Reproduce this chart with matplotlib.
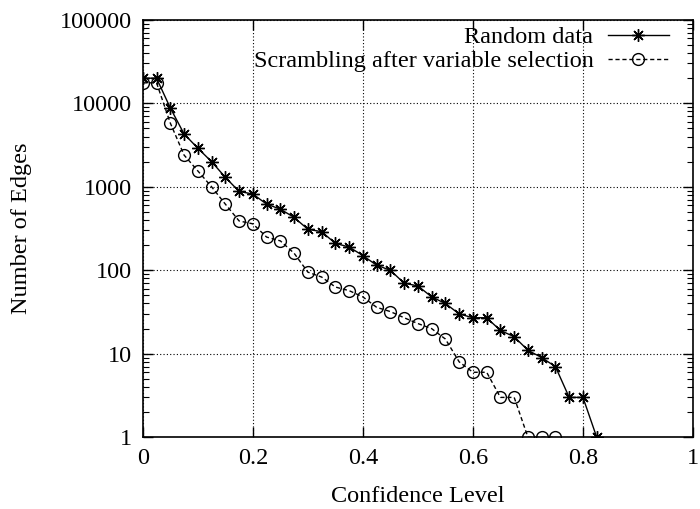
import numpy as np
import matplotlib
matplotlib.use('Agg')
import matplotlib.pyplot as plt
from matplotlib.ticker import LogLocator, NullFormatter, FixedLocator

plt.rcParams['font.family'] = ['Liberation Serif', 'DejaVu Serif']
plt.rcParams['font.size'] = 17.5

# confidence levels (step 0.025)
x_random = [0.0, 0.025, 0.05, 0.075, 0.1, 0.125, 0.15, 0.175, 0.2, 0.225,
            0.25, 0.275, 0.3, 0.325, 0.35, 0.375, 0.4, 0.425, 0.45, 0.475,
            0.5, 0.525, 0.55, 0.575, 0.6, 0.625, 0.65, 0.675, 0.7, 0.725,
            0.75, 0.775, 0.8, 0.825]
y_random = [20000, 20000, 8800, 4300, 2900, 2000, 1300, 880, 820, 620,
            540, 430, 310, 290, 210, 190, 150, 115, 100, 70,
            65, 48, 40, 30, 27, 27, 19, 16, 11, 9,
            7, 3, 3, 1]

x_scramble = [0.0, 0.025, 0.05, 0.075, 0.1, 0.125, 0.15, 0.175, 0.2, 0.225,
              0.25, 0.275, 0.3, 0.325, 0.35, 0.375, 0.4, 0.425, 0.45, 0.475,
              0.5, 0.525, 0.55, 0.575, 0.6, 0.625, 0.65, 0.675, 0.7, 0.725,
              0.75]
y_scramble = [17600, 17600, 5800, 2400, 1550, 1000, 620, 390, 360, 250,
              225, 160, 95, 83, 63, 57, 48, 36, 32, 27,
              23, 20, 15, 8, 6, 6, 3, 3, 1, 1,
              1]

xticks = [0, 0.2, 0.4, 0.6, 0.8, 1]
xticklabels = ['0', '0.2', '0.4', '0.6', '0.8', '1']
yticks = [1, 10, 100, 1000, 10000, 100000]
yticklabels = ['1', '10', '100', '1000', '10000', '100000']

fig = plt.figure(figsize=(7, 5.09), dpi=100)
ax = fig.add_axes([0.204, 0.141, 0.786, 0.820])

ax.plot(x_random, y_random, color='black', lw=1.0, ls='-',
        marker=(8, 2, 0), ms=9, mew=1.0, label='Random data')
ax.plot(x_scramble, y_scramble, color='black', lw=1.0, ls=(0, (3, 2)),
        marker='o', ms=8.5, mew=1.0, mfc='none', label='Scrambling after variable selection')

ax.set_yscale('log')
ax.set_xlim(0, 1)
ax.set_ylim(1, 100000)
ax.xaxis.set_major_locator(FixedLocator(xticks))
ax.set_xticklabels(xticklabels)
ax.yaxis.set_major_locator(FixedLocator(yticks))
ax.set_yticklabels(yticklabels)
ax.yaxis.set_minor_locator(LogLocator(base=10, subs=np.arange(2, 10)))
ax.yaxis.set_minor_formatter(NullFormatter())

ax.tick_params(which='both', direction='in', top=True, right=True)
ax.tick_params(which='major', length=7, width=1, pad=8)
ax.tick_params(which='minor', length=4, width=0.8)
ax.grid(True, which='major', ls=(0, (1, 2)), lw=0.8, color='black')
for s in ax.spines.values():
    s.set_linewidth(1.2)

ax.set_xlabel('Confidence Level', labelpad=12)
ax.set_ylabel('Number of Edges', labelpad=20)

leg = ax.legend(loc='upper right', bbox_to_anchor=(0.987, 1.025), frameon=False,
                markerfirst=False, handlelength=2.5, handletextpad=0.6,
                labelspacing=0.07, borderpad=0.2)

fig.savefig('out.png', dpi=100)
